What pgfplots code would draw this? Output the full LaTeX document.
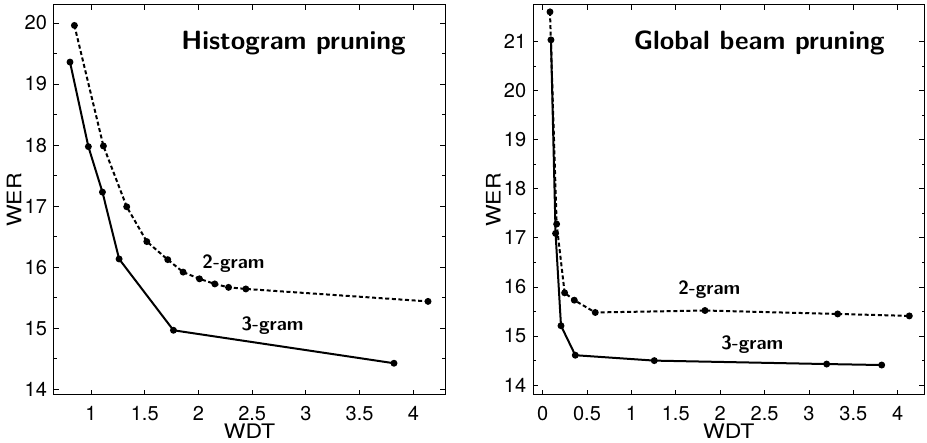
\documentclass[border=0pt]{standalone}
\usepackage{fontspec}
\setmainfont{TeX Gyre Heros}
\usepackage{graphicx}
\usepackage{pgfplots}
\pgfplotsset{compat=1.18}

\pgfplotsset{
  wdtwer/.style={
    scale only axis,
    width=195.5pt, height=195pt,
    axis line style={line width=0.5pt},
    tick style={line width=0.4pt, black},
    major tick length=2.5pt,
    minor tick length=1.3pt,
    tick align=inside,
    xtick pos=both, ytick pos=both,
    minor y tick num=1,
    tick label style={font=\fontsize{10}{11}\selectfont},
    /pgf/number format/assume math mode=true,
    yticklabel style={xshift=0pt},
    xticklabel style={inner sep=1pt, yshift=-4.3pt},
    xlabel={\scalebox{1.15}[1]{WDT}}, ylabel={\scalebox{1.15}[1]{WER}},
    label style={font=\fontsize{11}{13}\selectfont, inner sep=1pt},
    every axis x label/.style={at={(axis description cs:0.5,0)}, yshift=-18.3pt, anchor=center},
    every axis y label/.style={at={(axis description cs:0,0.5)}, xshift=-20pt, rotate=90, anchor=center},
    clip=false,
  },
  tri/.style={black, line width=1pt, mark=*, mark size=1.2pt, mark options={solid}},
  bi/.style={black, line width=1pt, dash pattern=on 2pt off 1.3pt, mark=*, mark size=1.2pt, mark options={solid}},
}
\tikzset{
  ann/.style={font=\sffamily\bfseries\fontsize{9.6}{11}\selectfont},
  paneltitle/.style={font=\sffamily\bfseries\fontsize{13.2}{15}\selectfont},
}

\begin{document}
\begin{tikzpicture}
\begin{axis}[wdtwer, at={(0,0)}, anchor=south west,
  xmin=0.655, xmax=4.295, ymin=13.907, ymax=20.295,
  xtick={1,1.5,2,2.5,3,3.5,4}, ytick={14,15,16,17,18,19,20}]
\addplot[tri] coordinates {
  (0.804,19.36) (0.975,17.975) (1.106,17.23) (1.261,16.135) (1.767,14.967) (3.82,14.427)
};
\addplot[bi] coordinates {
  (0.845,19.96) (1.115,17.986) (1.332,16.99) (1.519,16.42) (1.714,16.124) (1.857,15.92)
  (2.009,15.81) (2.152,15.726) (2.280,15.67) (2.441,15.644) (4.137,15.44)
};
\node[paneltitle] at (axis cs:2.885,19.67) {Histogram pruning};
\node[ann] at (axis cs:2.326,16.06) {2-gram};
\node[ann] at (axis cs:2.69,15.04) {3-gram};
\end{axis}

\begin{axis}[wdtwer, at={(239.65pt,0)}, anchor=south west,
  xmin=-0.105, xmax=4.30, ymin=13.80, ymax=21.74,
  xtick={0,0.5,1,1.5,2,2.5,3,3.5,4}, ytick={14,15,16,17,18,19,20,21}]
\addplot[tri] coordinates {
  (0.094,21.03) (0.146,17.09) (0.207,15.21) (0.368,14.61) (1.258,14.50) (3.20,14.43) (3.82,14.41)
};
\addplot[bi] coordinates {
  (0.083,21.60) (0.158,17.28) (0.248,15.88) (0.357,15.73) (0.593,15.48) (1.829,15.52)
  (3.324,15.45) (4.131,15.41)
};
\node[paneltitle] at (axis cs:2.44,20.96) {Global beam pruning};
\node[ann] at (axis cs:1.878,15.94) {2-gram};
\node[ann] at (axis cs:2.362,14.82) {3-gram};
\end{axis}
\pgfresetboundingbox
\useasboundingbox (-27pt,-24pt) rectangle (436.5pt,197.5pt);
\end{tikzpicture}
\end{document}
